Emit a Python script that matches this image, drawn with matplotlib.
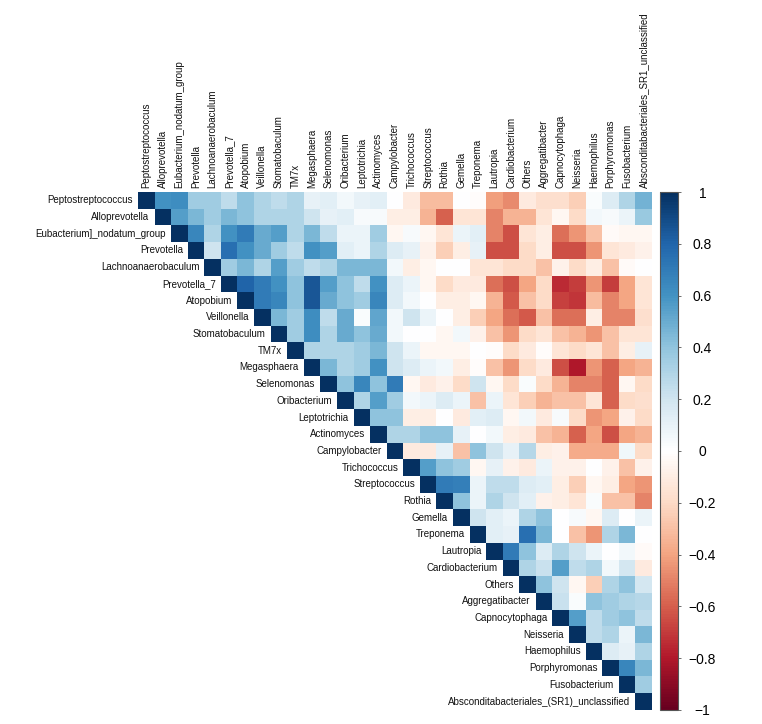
import numpy as np
import matplotlib
matplotlib.use("Agg")
import matplotlib.pyplot as plt
from matplotlib.colors import LinearSegmentedColormap, Normalize
from matplotlib.cm import ScalarMappable

plt.rcParams['font.family'] = ['Liberation Sans', 'DejaVu Sans']

# taxa, row labels (left) and column labels (top) differ slightly in the original
row_labels = ["Peptostreptococcus", "Alloprevotella", "Eubacterium]_nodatum_group", "Prevotella",
              "Lachnoanaerobaculum", "Prevotella_7", "Atopobium", "Veillonella", "Stomatobaculum",
              "TM7x", "Megasphaera", "Selenomonas", "Oribacterium", "Leptotrichia", "Actinomyces",
              "Campylobacter", "Trichococcus", "Streptococcus", "Rothia", "Gemella", "Treponema",
              "Lautropia", "Cardiobacterium", "Others", "Aggregatibacter", "Capnocytophaga",
              "Neisseria", "Haemophilus", "Porphyromonas", "Fusobacterium",
              "Absconditabacteriales_(SR1)_unclassified"]
col_labels = ["Peptostreptococcus", "Alloprevotella", "Eubacterium_nodatum_group", "Prevotella",
              "Lachnoanaerobaculum", "Prevotella_7", "Atopobium", "Veillonella", "Stomatobaculum",
              "TM7x", "Megasphaera", "Selenomonas", "Oribacterium", "Leptotrichia", "Actinomyces",
              "Campylobacter", "Trichococcus", "Streptococcus", "Rothia", "Gemella", "Treponema",
              "Lautropia", "Cardiobacterium", "Others", "Aggregatibacter", "Capnocytophaga",
              "Neisseria", "Haemophilus", "Porphyromonas", "Fusobacterium",
              "Absconditabacteriales_SR1_unclassified"]

# upper triangle, each row starts right after the diagonal
r01 = [0.6, 0.62, 0.35, 0.35, 0.25, 0.4, 0.3, 0.25, 0.3, 0.1, 0.12, 0.05, 0.1, 0.12, 0.0,
       -0.12, -0.32, -0.32, 0.0, -0.02, -0.42, -0.48, -0.12, -0.18, -0.18, -0.25, 0.02, 0.15, 0.3, 0.47]
r02 = [0.55, 0.45, 0.35, 0.45, 0.4, 0.3, 0.3, 0.3, 0.2, 0.1, 0.12, 0.03, 0.03, -0.1,
       -0.1, -0.35, -0.6, -0.15, -0.15, -0.5, -0.35, -0.35, -0.15, -0.05, -0.2, 0.05, 0.03, 0.08, 0.37]
r03 = [0.65, 0.3, 0.6, 0.7, 0.5, 0.55, 0.3, 0.45, 0.25, 0.08, 0.08, 0.35, -0.05,
       0.03, -0.05, -0.15, 0.08, 0.12, -0.5, -0.65, -0.15, -0.1, -0.55, -0.45, -0.3, -0.03, -0.05, -0.05]
r04 = [0.2, 0.75, 0.6, 0.5, 0.35, 0.25, 0.6, 0.55, 0.12, 0.08, 0.3, 0.15,
       0.1, -0.08, -0.25, -0.1, 0.1, -0.65, -0.65, -0.2, -0.1, -0.65, -0.65, -0.45, -0.15, -0.12, -0.08]
r05 = [0.35, 0.45, 0.3, 0.55, 0.35, 0.25, 0.3, 0.45, 0.45, 0.45, 0.05,
       -0.1, -0.05, 0.0, 0.0, -0.15, -0.15, -0.2, -0.2, -0.3, -0.08, -0.2, -0.1, -0.3, -0.03, 0.0]
r06 = [0.8, 0.7, 0.6, 0.4, 0.85, 0.55, 0.4, 0.25, 0.6, 0.15,
       0.08, -0.05, -0.2, -0.12, -0.12, -0.55, -0.65, -0.4, -0.2, -0.75, -0.7, -0.45, -0.7, -0.4, -0.15]
r07 = [0.7, 0.65, 0.4, 0.85, 0.5, 0.4, 0.35, 0.65, 0.15,
       0.05, 0.0, -0.1, -0.1, -0.05, -0.35, -0.62, -0.3, -0.2, -0.68, -0.72, -0.32, -0.5, -0.4, -0.15]
r08 = [0.45, 0.35, 0.62, 0.25, 0.5, 0.02, 0.52, 0.05,
       0.2, 0.08, 0.0, -0.1, -0.25, -0.4, -0.55, -0.62, -0.3, -0.55, -0.55, -0.1, -0.5, -0.5, -0.18]
r09 = [0.35, 0.62, 0.3, 0.5, 0.4, 0.5, 0.05,
       0.0, 0.0, -0.05, 0.05, -0.08, -0.3, -0.45, -0.2, -0.15, -0.3, -0.35, -0.45, -0.3, -0.15, -0.15]
r10 = [0.3, 0.3, 0.3, 0.35, 0.45, 0.2,
       0.08, -0.05, -0.05, -0.05, 0.0, -0.02, -0.2, -0.12, -0.02, -0.15, -0.2, -0.15, -0.3, -0.1, 0.1]
r11 = [0.45, 0.3, 0.35, 0.6, 0.2,
       0.15, 0.08, 0.05, -0.1, -0.02, -0.3, -0.45, -0.2, -0.12, -0.65, -0.8, -0.45, -0.6, -0.4, -0.35]
r12 = [0.4, 0.65, 0.4, 0.7,
       -0.05, -0.12, -0.08, -0.2, 0.2, -0.05, -0.2, 0.02, -0.2, -0.35, -0.5, -0.5, -0.6, -0.05, -0.2]
r13 = [0.3, 0.55, 0.35,
       0.05, 0.08, 0.15, 0.08, -0.3, 0.08, -0.15, -0.25, -0.35, -0.3, -0.3, -0.15, -0.6, -0.2, -0.18]
r14 = [0.4, 0.4,
       -0.1, -0.1, 0.0, -0.12, 0.12, 0.15, -0.05, 0.05, -0.12, 0.03, -0.2, -0.45, -0.4, -0.08, -0.2]
r15 = [0.3,
       0.3, 0.4, 0.4, 0.1, 0.0, 0.05, -0.1, -0.12, -0.3, -0.35, -0.6, -0.4, -0.65, -0.4, -0.35]
r16 = [-0.12, -0.12, 0.1, -0.3, 0.4, 0.2, 0.1, 0.28, -0.1, -0.08, -0.38, -0.38, -0.38, 0.06, -0.2]
r17 = [0.55, 0.4, 0.35, -0.05, 0.1, -0.08, -0.12, 0.08, -0.08, -0.08, 0.0, -0.08, -0.3, -0.08]
r18 = [0.7, 0.68, 0.08, 0.25, 0.25, 0.15, 0.12, -0.1, -0.25, -0.05, -0.1, -0.4, -0.45]
r19 = [0.4, 0.08, 0.3, 0.2, 0.12, -0.08, -0.1, -0.15, 0.02, -0.3, -0.3, -0.5]
r20 = [0.2, 0.12, 0.08, 0.3, 0.4, 0.0, 0.03, -0.05, 0.15, 0.0, 0.08]
r21 = [0.12, 0.1, 0.75, 0.45, 0.0, -0.3, -0.45, 0.3, 0.45, 0.0]
r22 = [0.7, 0.4, 0.15, 0.3, 0.2, 0.08, 0.0, 0.05, -0.03]
r23 = [0.3, 0.22, 0.55, 0.25, 0.3, 0.05, 0.18, -0.12]
r24 = [0.4, 0.2, -0.05, -0.25, 0.3, 0.4, 0.18]
r25 = [0.22, 0.02, 0.4, 0.35, 0.3, 0.28]
r26 = [0.55, 0.25, 0.35, 0.4, 0.25]
r27 = [0.25, 0.3, 0.08, 0.45]
r28 = [0.15, 0.1, 0.3]
r29 = [0.65, 0.45]
r30 = [0.35]

upper_rows = [r01, r02, r03, r04, r05, r06, r07, r08, r09, r10, r11, r12, r13, r14, r15,
              r16, r17, r18, r19, r20, r21, r22, r23, r24, r25, r26, r27, r28, r29, r30]

n = len(row_labels)
corr = np.full((n, n), np.nan)
for i in range(n):
    corr[i, i] = 1.0
for i, vals in enumerate(upper_rows):
    corr[i, i + 1:] = vals
mat = np.ma.masked_invalid(corr)

# corrplot COL2('RdBu')
cmap = LinearSegmentedColormap.from_list(
    "corr_rdbu", ["#67001F", "#B2182B", "#D6604D", "#F4A582", "#FDDBC7", "#FFFFFF",
                  "#D1E5F0", "#92C5DE", "#4393C3", "#2166AC", "#053061"], N=200)
norm = Normalize(vmin=-1, vmax=1)

fig = plt.figure(figsize=(7.62, 7.24), dpi=100)
ax = fig.add_axes([0.1811, 0.0195, 0.6745, 0.7153])
ax.pcolormesh(np.arange(n + 1), np.arange(n + 1), mat, cmap=cmap, norm=norm,
              shading='flat', antialiased=False)
ax.set_xlim(0, n)
ax.set_ylim(n, 0)
ax.set_axis_off()

fs = 7.0
for i, lab in enumerate(row_labels):
    ax.text(i - 0.3, i + 0.5, lab, ha='right', va='center', fontsize=fs, color='#111111')
for j, lab in enumerate(col_labels):
    ax.text(j + 0.5, -0.25, lab, ha='center', va='bottom', rotation=90,
            fontsize=fs, color='#111111')

cax = fig.add_axes([0.866, 0.0195, 0.024, 0.7153])
cb = fig.colorbar(ScalarMappable(norm=norm, cmap=cmap), cax=cax)
cb.set_ticks(np.round(np.arange(-1, 1.01, 0.2), 1))
cb.set_ticklabels(["−1", "−0.8", "−0.6", "−0.4", "−0.2", "0", "0.2", "0.4", "0.6", "0.8", "1"])
cb.outline.set_edgecolor('#555555')
cb.outline.set_linewidth(0.8)
cax.tick_params(length=2.5, width=0.6, color='#555555', pad=15, labelsize=10)
for t in cax.get_yticklabels():
    t.set_ha('center')

fig.savefig("out.png", dpi=100)
